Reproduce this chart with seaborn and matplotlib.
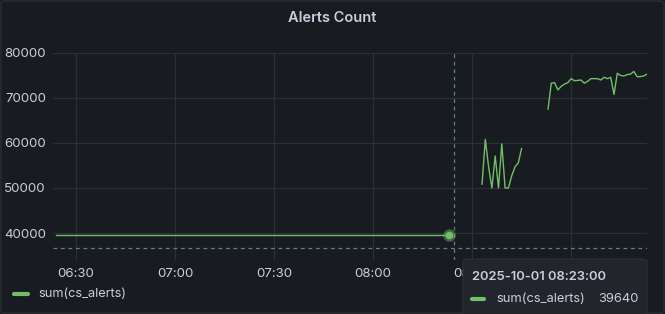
import numpy as np
import pandas as pd
import matplotlib
matplotlib.use("Agg")
import matplotlib.pyplot as plt
import matplotlib.dates as mdates
from matplotlib.lines import Line2D
from matplotlib.patches import FancyBboxPatch
import seaborn as sns

# ---------------- data ----------------
series_name = "sum(cs_alerts)"
flat_times = ["2025-10-01 06:24", "2025-10-01 08:23"]
flat_values = [39640, 39640]

seg2_start = "2025-10-01 08:33"
seg2_values = [50800, 60800, 54700, 50000, 57100, 50000, 59800,
               50000, 50000, 52700, 54700, 55600, 58800]

seg3_start = "2025-10-01 08:53"
seg3_values = [67500, 73300, 73400, 71800, 72600, 73100, 73400, 74300,
               73850, 73900, 74000, 73300, 73700, 74300, 74300, 74300,
               74000, 74600, 74300, 74600, 70800, 75500, 75000, 74900,
               75200, 75300, 75900, 74750, 74750, 74900, 75300]

x_ticks = ["06:30", "07:00", "07:30", "08:00", "08:30", "09:00"]
hidden_x_ticks = ["09:00"]  # fully covered by the tooltip in the reference
y_ticks = [40000, 50000, 60000, 70000, 80000]
x_range = ["2025-10-01 06:23", "2025-10-01 09:23"]
y_range = [34000, 80000]

hover_time = "2025-10-01 08:23:00"
hover_value = 39640
cursor_time = "2025-10-01 08:24:36"
cursor_value = 36700
title = "Alerts Count"

# ---------------- build frame ----------------
frames = [
    pd.DataFrame({"time": pd.to_datetime(flat_times), "value": flat_values, "seg": 0}),
    pd.DataFrame({"time": pd.date_range(seg2_start, periods=len(seg2_values), freq="min"),
                  "value": seg2_values, "seg": 1}),
    pd.DataFrame({"time": pd.date_range(seg3_start, periods=len(seg3_values), freq="min"),
                  "value": seg3_values, "seg": 2}),
]
df = pd.concat(frames, ignore_index=True)

BG = "#181b1f"
TXT = "#ccccdc"
GREEN = "#73bf69"
GRID = "#2c2f34"
CROSS = "#5b8294"

sns.set_theme(style="dark")
plt.rcParams["font.family"] = ["Inter", "DejaVu Sans"]

fig = plt.figure(figsize=(6.65, 3.14), dpi=100, facecolor=BG)
W, H = 665, 314
ax = fig.add_axes([53 / W, 1 - 260 / H, (647 - 53) / W, (260 - 53) / H])
ax.set_facecolor(BG)

sns.lineplot(data=df, x="time", y="value", units="seg", estimator=None,
             color=GREEN, linewidth=1.0, ax=ax, legend=False)

ax.set_xlim(pd.to_datetime(x_range[0]), pd.to_datetime(x_range[1]))
ax.set_ylim(*y_range)
ax.set_xticks([pd.to_datetime("2025-10-01 " + t) for t in x_ticks])
ax.set_xticklabels(["" if t in hidden_x_ticks else t for t in x_ticks])
ax.set_yticks(y_ticks)
ax.set_yticklabels([str(v) for v in y_ticks])
ax.grid(True, color=GRID, linewidth=0.9)
for s in ax.spines.values():
    s.set_visible(False)
ax.tick_params(axis="both", colors=TXT, labelsize=9.6, length=0)
ax.tick_params(axis="y", pad=5)
ax.tick_params(axis="x", pad=6)
ax.set_xlabel("")
ax.set_ylabel("")

# crosshair
ct = pd.to_datetime(cursor_time)
ax.axvline(ct, color=CROSS, linewidth=0.9, linestyle=(0, (3, 3)))
ax.axhline(cursor_value, color=CROSS, linewidth=0.9, linestyle=(0, (3, 3)))

# hovered point
ht = pd.to_datetime(hover_time)
ax.plot([ht], [hover_value], "o", color=GREEN, alpha=0.45, markersize=9, markeredgewidth=0, zorder=5)
ax.plot([ht], [hover_value], "o", color=GREEN, markersize=5.5, markeredgewidth=0, zorder=6)

# title
fig.text(0.5, 1 - 18 / H, title, ha="center", va="center", color=TXT,
         fontsize=10.5, fontweight="semibold")

# legend
fig.add_artist(Line2D([14 / W, 28 / W], [1 - 294 / H] * 2, color=GREEN,
                      linewidth=3, solid_capstyle="round"))
fig.text(38 / W, 1 - 294 / H, series_name, ha="left", va="center", color=TXT, fontsize=9.2)

# panel border
fig.add_artist(FancyBboxPatch((1 / W, 1 / H), 663 / W, 312 / H,
                              boxstyle="round,pad=0,rounding_size=0.006",
                              transform=fig.transFigure, facecolor="none",
                              edgecolor="#2a2d33", linewidth=1, zorder=1))

# tooltip
tip = FancyBboxPatch((463 / W, -10 / H), (647 - 463) / W, (324 - 259) / H,
                     boxstyle="round,pad=0,rounding_size=0.008",
                     transform=fig.transFigure, facecolor="#22252b",
                     edgecolor="#2c2f35", linewidth=0.8, zorder=20)
fig.add_artist(tip)
fig.text(472 / W, 1 - 277 / H, pd.to_datetime(hover_time).strftime("%Y-%m-%d %H:%M:%S"),
         ha="left", va="center", color=TXT, fontsize=9.4, fontweight="semibold", zorder=21)
fig.add_artist(Line2D([472 / W, 484 / W], [1 - 299 / H] * 2, color=GREEN,
                      linewidth=3, solid_capstyle="round", zorder=21))
fig.text(496 / W, 1 - 299 / H, series_name, ha="left", va="center", color=TXT, fontsize=9.3, zorder=21)
fig.text(639 / W, 1 - 299 / H, str(hover_value), ha="right", va="center", color=TXT, fontsize=9.3, zorder=21)

fig.savefig("out.png", dpi=100, facecolor=BG)
